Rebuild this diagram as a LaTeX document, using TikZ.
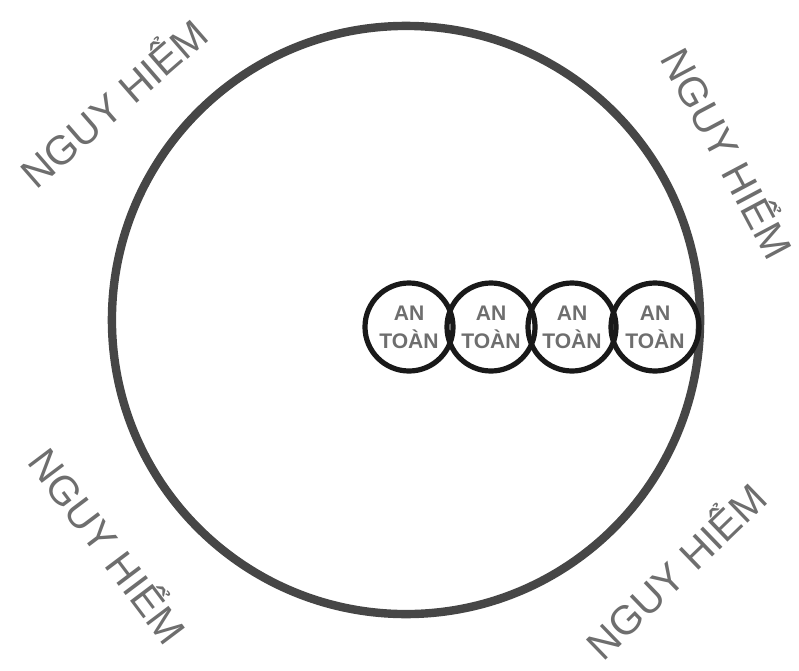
\documentclass[tikz,border=0pt]{standalone}
\usepackage{fontspec}
\setmainfont{Liberation Sans}
\usepackage{tikz}
\definecolor{ringgray}{RGB}{70,70,70}
\definecolor{textgray}{RGB}{110,110,110}
\newcommand{\danger}{NGUY HIỂM}

\begin{document}
\begin{tikzpicture}[x=0.025cm, y=-0.025cm,
    safe/.style={circle, draw=black!90, line width=1.3mm, minimum size=2.2cm, inner sep=0pt,
        text=textgray, align=center, font=\fontsize{15}{20}\selectfont\bfseries},
    warn/.style={text=textgray, inner sep=0pt, font=\fontsize{29}{36}\selectfont}]
    \useasboundingbox (0,0) rectangle (799,670);

    % Big ring
    \node[circle, draw=ringgray, line width=2.1mm, minimum size=14.7cm] (zone) at (406,320) {};

    % Safe circles
    \foreach \n/\x in {1/409, 2/491, 3/572, 4/655} {
        \node[safe] (safe\n) at (\x,327) {AN\\TOÀN};
    }

    % Danger labels
    \node[warn, rotate=41] (dangerNW) at (112,101) {\danger};
    \node[warn, rotate=-62] (dangerNE) at (730,152) {\danger};
    \node[warn, rotate=-53] (dangerSW) at (110,544) {\danger};
    \node[warn, rotate=44] (dangerSE) at (674,569) {\danger};
\end{tikzpicture}
\end{document}
